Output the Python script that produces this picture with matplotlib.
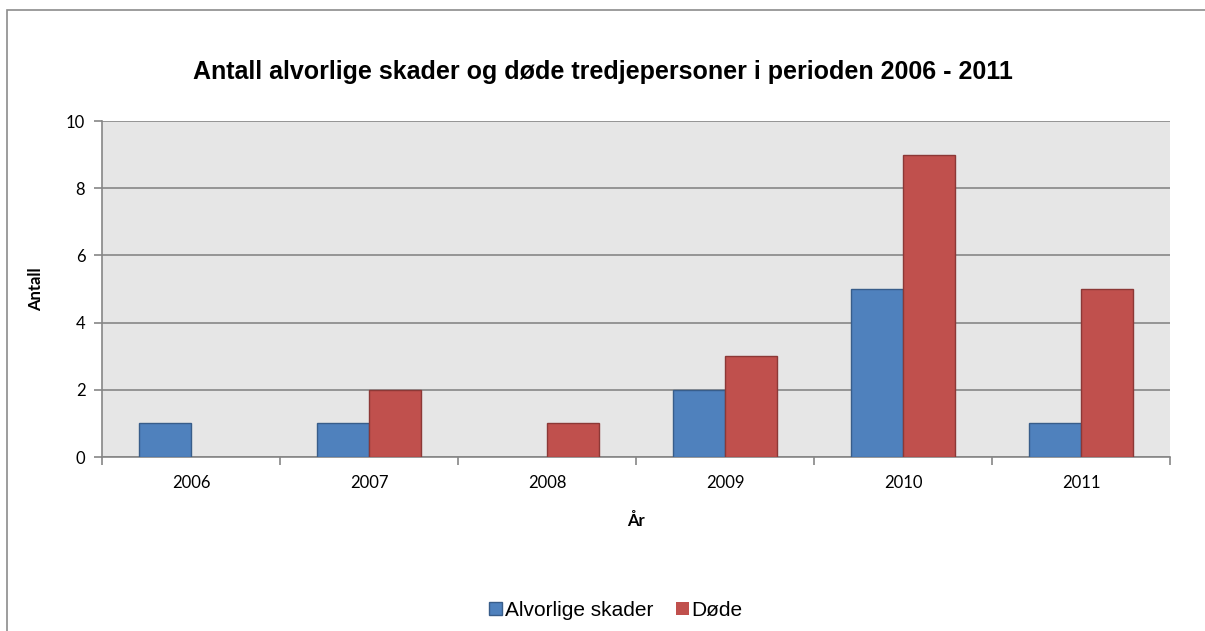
import matplotlib
matplotlib.use("Agg")
import matplotlib.pyplot as plt
import numpy as np
from matplotlib.patches import Rectangle

years = ["2006", "2007", "2008", "2009", "2010", "2011"]
alvorlige = [1, 1, 0, 2, 5, 1]
dode = [0, 2, 1, 3, 9, 5]
series_names = ["Alvorlige skader", "Døde"]
yticks = [0, 2, 4, 6, 8, 10]

fig = plt.figure(figsize=(12.05, 6.31), dpi=100)
fig.patch.set_facecolor("white")
# outer chart border
fig.patches.append(Rectangle((7/1205, -0.05), 1.2, 1 - 10/631 + 0.05, transform=fig.transFigure,
                             fill=False, edgecolor="#8c8c8c", linewidth=1.2, zorder=0))

ax = fig.add_axes([102/1205, 1 - 457/631, (1170 - 102)/1205, (457 - 121)/631])
ax.set_facecolor("#E6E6E6")

x = np.arange(len(years))
w = 0.292
lw_a = [1 if v else 0 for v in alvorlige]
lw_d = [1 if v else 0 for v in dode]
ax.bar(x - w/2, alvorlige, w, color="#4F81BD", edgecolor="#385D8A", linewidth=lw_a, label=series_names[0], zorder=3)
ax.bar(x + w/2, dode, w, color="#C0504D", edgecolor="#8C3836", linewidth=lw_d, label=series_names[1], zorder=3)

ax.set_xlim(-0.5, len(years) - 0.5)
ax.set_ylim(0, 10)
ax.set_yticks(yticks)
ax.set_yticklabels([str(t) for t in yticks], fontfamily="Lato", fontsize=12)
ax.yaxis.grid(True, color="#868686", linewidth=1.2, zorder=1)
ax.set_axisbelow(True)

ax.set_xticks(x)
ax.set_xticklabels(years, fontfamily="Lato", fontsize=12)
ax.tick_params(axis="x", which="major", length=0, pad=13)
ax.set_xticks(np.arange(-0.5, len(years)), minor=True)
ax.tick_params(axis="x", which="minor", length=6, color="#868686", width=1.2)
ax.tick_params(axis="y", length=6, color="#868686", width=1.2, pad=6)

for s in ["top", "right"]:
    ax.spines[s].set_visible(False)
for s in ["left", "bottom"]:
    ax.spines[s].set_color("#868686")
    ax.spines[s].set_linewidth(1.2)

ax.set_xlabel("År", fontfamily="Lato", fontweight="bold", fontsize=12, labelpad=16)
ax.set_ylabel("Antall", fontfamily="Lato", fontweight="bold", fontsize=12, labelpad=16)

fig.text(0.5, 1 - 72/631, "Antall alvorlige skader og døde tredjepersoner i perioden 2006 - 2011",
         ha="center", va="center", fontfamily="Liberation Sans", fontweight="bold", fontsize=18)

fig.legend(loc="center", bbox_to_anchor=(616/1205, 1 - 610/631), ncol=2, frameon=False,
           prop={"family": "Liberation Sans", "size": 15}, handlelength=0.6, handleheight=0.6,
           handletextpad=0.15, columnspacing=1.1)

fig.savefig("out.png", dpi=100)
